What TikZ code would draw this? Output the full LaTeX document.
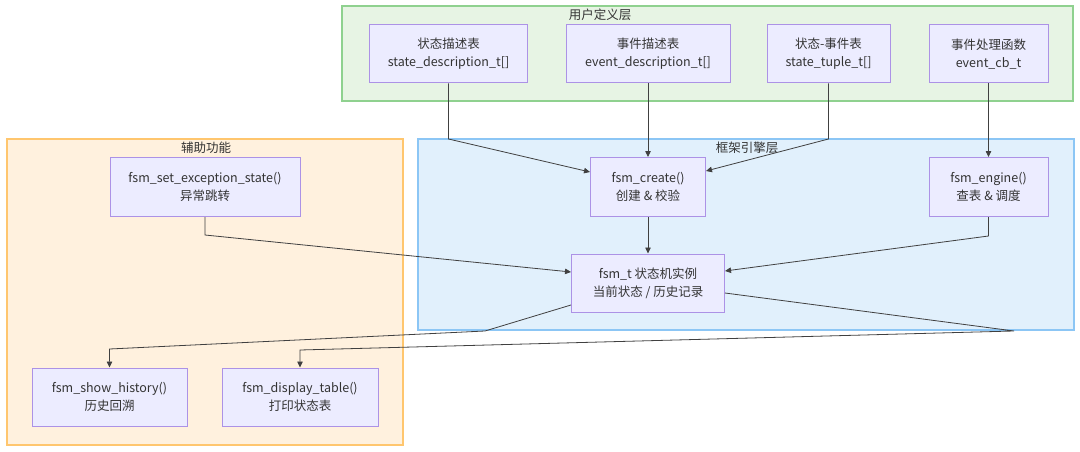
\documentclass[tikz,border=0pt]{standalone}
\usepackage{fontspec}
\setmainfont{Noto Sans CJK SC}
\usetikzlibrary{arrows.meta}
\definecolor{nodeFill}{HTML}{ECECFF}
\definecolor{nodeStroke}{HTML}{AC92E6}
\definecolor{txt}{HTML}{333333}
\definecolor{edgeC}{HTML}{404040}
\definecolor{gFill}{HTML}{E7F4E4}
\definecolor{gStroke}{HTML}{8FD18F}
\definecolor{bFill}{HTML}{E1F0FC}
\definecolor{bStroke}{HTML}{8CC6F5}
\definecolor{oFill}{HTML}{FFF1DE}
\definecolor{oStroke}{HTML}{FFC66E}
\begin{document}
\begin{tikzpicture}[x=1pt,y=-1pt,
  box/.style={draw=nodeStroke, fill=nodeFill, line width=1pt, inner sep=0pt, align=center,
    font=\fontsize{12.5}{18}\selectfont, text=txt},
  grp/.style={line width=1.1pt},
  lbl/.style={font=\fontsize{12.5}{14}\selectfont, text=txt, inner sep=0pt},
  edge/.style={draw=edgeC, line width=0.8pt, -{Triangle[length=6pt,width=5.5pt]}}
]
\useasboundingbox (0,0) rectangle (1080,452);
% groups
\draw[grp, draw=gStroke, fill=gFill] (342,6) rectangle (1073,101);
\draw[grp, draw=bStroke, fill=bFill] (418,139) rectangle (1074,330);
\draw[grp, draw=oStroke, fill=oFill] (7,139) rectangle (403,445);
\node[lbl] (tg) at (600,15) {用户定义层};
\node[lbl] (tb) at (747,148) {框架引擎层};
\node[lbl] (to) at (206,148) {辅助功能};
% nodes
\node[box, minimum width=158, minimum height=58] (A) at (448.5,54) {状态描述表\\state\_description\_t[]};
\node[box, minimum width=164, minimum height=58] (B) at (648,54) {事件描述表\\event\_description\_t[]};
\node[box, minimum width=123, minimum height=58] (C) at (828.5,54) {状态-事件表\\state\_tuple\_t[]};
\node[box, minimum width=119, minimum height=58] (D) at (988.5,54) {事件处理函数\\event\_cb\_t};
\node[box, minimum width=115, minimum height=59] (E) at (648,187) {fsm\_create()\\创建 \& 校验};
\node[box, minimum width=119, minimum height=59] (F) at (988.5,187) {fsm\_engine()\\查表 \& 调度};
\node[box, minimum width=153, minimum height=58] (G) at (648,283) {fsm\_t 状态机实例\\当前状态 / 历史记录};
\node[box, minimum width=190, minimum height=59] (H) at (205,187) {fsm\_set\_exception\_state()\\异常跳转};
\node[box, minimum width=155, minimum height=58] (I) at (109.5,397) {fsm\_show\_history()\\历史回溯};
\node[box, minimum width=156, minimum height=58] (J) at (300,397) {fsm\_display\_table()\\打印状态表};
% edge helper coordinates
\coordinate (a1) at (A.south |- 0,139);
\coordinate (c1) at (C.south |- 0,139);
\coordinate (f1) at (F.south |- 0,236);
\coordinate (h1) at (H.south |- 0,235);
\coordinate (g1) at (485,331);
\coordinate (g2) at (I.north |- 0,349);
\coordinate (g3) at (1014,331);
\coordinate (g4) at (J.north |- 0,350);
% edges
\draw[edge] (A.south) -- (a1) -- ([yshift=15pt]E.west);
\draw[edge] (B.south) -- (E.north);
\draw[edge] (C.south) -- (c1) -- ([yshift=16pt]E.east);
\draw[edge] (D.south) -- (F.north);
\draw[edge] (E.south) -- (G.north);
\draw[edge] (F.south) -- (f1) -- ([yshift=12pt]G.east);
\draw[edge] (H.south) -- (h1) -- ([yshift=11pt]G.west);
\draw[edge] ([yshift=-22pt]G.west) -- (g1) -- (g2) -- (I.north);
\draw[edge] ([yshift=-10pt]G.east) -- (g3) -- (g4) -- (J.north);
\end{tikzpicture}
\end{document}
